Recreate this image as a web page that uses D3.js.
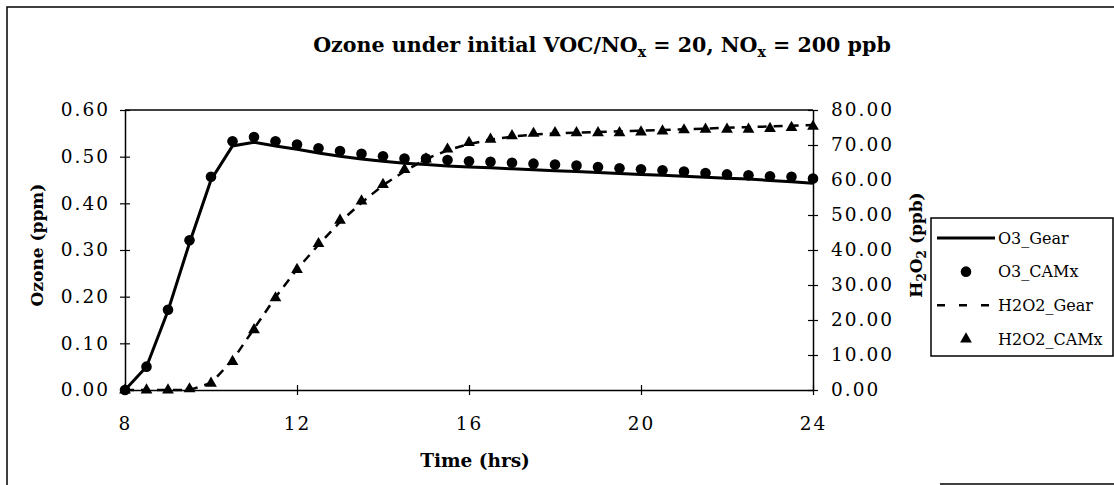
<!DOCTYPE html>
<html>
<head>
<meta charset="utf-8">
<script src="https://cdn.jsdelivr.net/npm/d3@7"></script>
<style>
body { margin: 0; background: #fff; }
svg { display: block; }
text { font-family: "DejaVu Serif", "Liberation Serif", serif; fill: #000; }
</style>
</head>
<body>
<script>
// time of day (hrs), one sample every half hour
var hours = [8, 8.5, 9, 9.5, 10, 10.5, 11, 11.5, 12, 12.5, 13, 13.5, 14, 14.5, 15, 15.5,
	16, 16.5, 17, 17.5, 18, 18.5, 19, 19.5, 20, 20.5, 21, 21.5, 22, 22.5, 23, 23.5, 24];

// ozone (ppm)
var o3Gear = [0.000, 0.050, 0.170, 0.315, 0.450, 0.523, 0.531, 0.523, 0.516, 0.508, 0.501, 0.495, 0.490, 0.486, 0.483, 0.480,
	0.478, 0.476, 0.474, 0.472, 0.470, 0.468, 0.466, 0.464, 0.462, 0.460, 0.458, 0.456, 0.454, 0.452, 0.449, 0.446, 0.443];
var o3Camx = [0.000, 0.050, 0.172, 0.321, 0.457, 0.533, 0.542, 0.533, 0.526, 0.518, 0.512, 0.506, 0.501, 0.496, 0.496, 0.493,
	0.490, 0.489, 0.487, 0.485, 0.483, 0.481, 0.478, 0.475, 0.473, 0.471, 0.468, 0.465, 0.462, 0.460, 0.458, 0.457, 0.453];

// H2O2 (ppb)
var h2o2Gear = [0, 0, 0, 0, 2.0, 8.5, 17.5, 26.5, 34.5, 41.5, 48.0, 53.5, 58.5, 62.5, 66.0, 68.5,
	70.3, 71.5, 72.4, 73.0, 73.3, 73.5, 73.7, 73.9, 74.1, 74.3, 74.5, 74.7, 74.9, 75.1, 75.3, 75.5, 75.7];
var h2o2Camx = [0, 0, 0, 0.3, 1.9, 8.1, 17.2, 26.3, 34.4, 41.8, 48.5, 54.0, 58.7, 63.0, 66.0, 68.8,
	70.7, 71.6, 72.6, 73.3, 73.5, 73.5, 73.5, 73.5, 73.7, 74.0, 74.3, 74.5, 74.5, 74.5, 74.7, 75.0, 75.3];

var xTicks = [8, 12, 16, 20, 24];
var yLeftTicks = [0, 0.1, 0.2, 0.3, 0.4, 0.5, 0.6];
var yRightTicks = [0, 10, 20, 30, 40, 50, 60, 70, 80];
var legendNames = ["O3_Gear", "O3_CAMx", "H2O2_Gear", "H2O2_CAMx"];

var width = 1114,
    height = 485;

var svg = d3.select("body").append("svg")
    .attr("width", width)
    .attr("height", height);

// page frame (scan edges)
svg.append("path")
    .attr("d", "M7,485V7H1114")
    .attr("fill", "none").attr("stroke", "#000").attr("stroke-width", 1.5);
svg.append("line")
    .attr("x1", 940).attr("x2", 1114).attr("y1", 484).attr("y2", 484)
    .attr("stroke", "#000").attr("stroke-width", 1.5);

var x = d3.scaleLinear().domain([8, 24]).range([125, 813]);
var yL = d3.scaleLinear().domain([0, 0.6]).range([390, 110]);
var yR = d3.scaleLinear().domain([0, 80]).range([390, 110]);

// top border of plot area
svg.append("line")
    .attr("x1", x(8)).attr("x2", x(24)).attr("y1", yL(0.6)).attr("y2", yL(0.6))
    .attr("stroke", "#000").attr("stroke-width", 1.5);

var gx = svg.append("g")
    .attr("transform", "translate(0," + yL(0) + ")")
    .call(d3.axisBottom(x).tickValues(xTicks).tickSizeInner(5).tickSizeOuter(0).tickPadding(22)
        .tickFormat(d3.format("d")));

var gl = svg.append("g")
    .attr("transform", "translate(" + x(8) + ",0)")
    .call(d3.axisLeft(yL).tickValues(yLeftTicks).tickSizeInner(5).tickSizeOuter(0).tickPadding(10)
        .tickFormat(d3.format(".2f")));

var gr = svg.append("g")
    .attr("transform", "translate(" + x(24) + ",0)")
    .call(d3.axisRight(yR).tickValues(yRightTicks).tickSizeInner(5).tickSizeOuter(0).tickPadding(13)
        .tickFormat(d3.format(".2f")));

// crossing ticks, serif labels
[gx, gl, gr].forEach(function(g) {
	g.select(".domain").attr("stroke", "#000").attr("stroke-width", 1.5);
	g.selectAll(".tick line").attr("stroke", "#000").attr("stroke-width", 1.2);
	g.selectAll(".tick text")
		.attr("font-family", "DejaVu Serif, serif")
		.attr("font-size", 18.5)
		.attr("letter-spacing", 2)
		.attr("fill", "#000");
});
gx.selectAll(".tick line").attr("y1", -5).attr("y2", 5);
gl.selectAll(".tick line").attr("x1", -5).attr("x2", 5);
gr.selectAll(".tick line").attr("x1", -5).attr("x2", 5);

// series
var lineO3 = d3.line()
    .x(function(d, i) { return x(hours[i]); })
    .y(function(d) { return yL(d); });
var lineH2 = d3.line()
    .x(function(d, i) { return x(hours[i]); })
    .y(function(d) { return yR(d); });

svg.append("path")
    .datum(o3Gear)
    .attr("d", lineO3)
    .attr("fill", "none").attr("stroke", "#000").attr("stroke-width", 3);

svg.append("path")
    .datum(h2o2Gear)
    .attr("d", lineH2)
    .attr("fill", "none").attr("stroke", "#000").attr("stroke-width", 2.5)
    .attr("stroke-dasharray", "9,7");

var tri = d3.symbol().type(d3.symbolTriangle).size(60);

svg.append("g").selectAll("path")
    .data(h2o2Camx)
    .enter().append("path")
      .attr("d", tri)
      .attr("transform", function(d, i) { return "translate(" + x(hours[i]) + "," + yR(d) + ")"; })
      .attr("fill", "#000");

svg.append("g").selectAll("circle")
    .data(o3Camx)
    .enter().append("circle")
      .attr("cx", function(d, i) { return x(hours[i]); })
      .attr("cy", function(d) { return yL(d); })
      .attr("r", 5.3)
      .attr("fill", "#000");

// title
var title = svg.append("text")
    .attr("x", 602).attr("y", 52)
    .attr("text-anchor", "middle")
    .attr("font-size", 20.6).attr("font-weight", "bold");
title.append("tspan").text("Ozone under initial VOC/NO");
title.append("tspan").attr("font-size", 14).attr("dy", 5).text("x");
title.append("tspan").attr("dy", -5).text(" = 20, NO");
title.append("tspan").attr("font-size", 14).attr("dy", 5).text("x");
title.append("tspan").attr("dy", -5).text(" = 200 ppb");

// axis titles
svg.append("text")
    .attr("transform", "translate(43,245) rotate(-90)")
    .attr("text-anchor", "middle")
    .attr("font-size", 17).attr("font-weight", "bold")
    .text("Ozone (ppm)");

svg.append("text")
    .attr("x", 475).attr("y", 467)
    .attr("text-anchor", "middle")
    .attr("font-size", 18.5).attr("font-weight", "bold")
    .text("Time (hrs)");

var rlab = svg.append("text")
    .attr("transform", "translate(922,245) rotate(-90)")
    .attr("text-anchor", "middle")
    .attr("font-size", 17).attr("font-weight", "bold");
rlab.append("tspan").text("H");
rlab.append("tspan").attr("font-size", 12).attr("dy", 4).text("2");
rlab.append("tspan").attr("dy", -4).text("O");
rlab.append("tspan").attr("font-size", 12).attr("dy", 4).text("2");
rlab.append("tspan").attr("dy", -4).text(" (ppb)");

// legend
var lg = svg.append("g");
lg.append("rect")
    .attr("x", 931).attr("y", 218).attr("width", 182).attr("height", 138)
    .attr("fill", "#fff").attr("stroke", "#000").attr("stroke-width", 1.5);

var ly = d3.scalePoint().domain(legendNames).range([238, 339]);

lg.append("line")
    .attr("x1", 937).attr("x2", 995).attr("y1", ly("O3_Gear")).attr("y2", ly("O3_Gear"))
    .attr("stroke", "#000").attr("stroke-width", 3);
lg.append("circle")
    .attr("cx", 966).attr("cy", ly("O3_CAMx")).attr("r", 5.3).attr("fill", "#000");
lg.append("line")
    .attr("x1", 937).attr("x2", 989).attr("y1", ly("H2O2_Gear")).attr("y2", ly("H2O2_Gear"))
    .attr("stroke", "#000").attr("stroke-width", 2.5).attr("stroke-dasharray", "8,14");
lg.append("path")
    .attr("d", tri)
    .attr("transform", "translate(966," + ly("H2O2_CAMx") + ")")
    .attr("fill", "#000");

lg.selectAll("text.lbl")
    .data(legendNames)
    .enter().append("text")
      .attr("class", "lbl")
      .attr("x", 998)
      .attr("y", function(d) { return ly(d); })
      .attr("dy", "0.35em")
      .attr("font-size", 16)
      .text(function(d) { return d; });
</script>
</body>
</html>
